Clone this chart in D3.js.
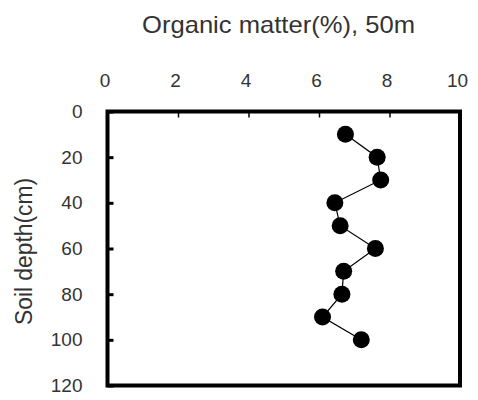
<!DOCTYPE html>
<html>
<head>
<meta charset="utf-8">
<script src="https://cdn.jsdelivr.net/npm/d3@7"></script>
<style>
  html, body { margin: 0; padding: 0; background: #fff; }
  svg { display: block; }
  text { font-family: "Liberation Sans", Arial, sans-serif; fill: #333; }
</style>
</head>
<body>
<svg id="chart" width="478" height="400"></svg>
<script>
// Data
const depths = [10, 20, 30, 40, 50, 60, 70, 80, 90, 100];
const organicMatter = [6.75, 7.65, 7.75, 6.45, 6.6, 7.6, 6.7, 6.65, 6.1, 7.2];
const xTicks = [0, 2, 4, 6, 8, 10];
const yTicks = [0, 20, 40, 60, 80, 100, 120];
const titleText = "Organic matter(%),  50m";
const yLabel = "Soil depth(cm)";

const svg = d3.select("#chart");
const margin = { left: 107.5, top: 111.5 };

const x = d3.scaleLinear().domain([0, 10]).range([margin.left, 460]);
const y = d3.scaleLinear().domain([0, 120]).range([margin.top, 385.5]);

// Title
svg.append("text")
  .attr("x", 142).attr("y", 33)
  .attr("font-size", 24)
  .attr("textLength", 273)
  .attr("lengthAdjust", "spacingAndGlyphs")
  .text(titleText);

// Top axis (ticks inward)
const xAxis = d3.axisTop(x).tickValues(xTicks).tickSize(-6).tickPadding(25).tickFormat(d3.format("d"));
const gx = svg.append("g").attr("transform", `translate(0,${y(0)})`).call(xAxis);
gx.select(".domain").remove();
gx.selectAll(".tick line").attr("stroke", "#000").attr("stroke-width", 1.5);
gx.selectAll(".tick text").attr("font-size", 19).attr("fill", "#333")
  .attr("font-family", "Liberation Sans, Arial, sans-serif").attr("dx", -3);

// Left axis (ticks inward)
const yAxis = d3.axisLeft(y).tickValues(yTicks).tickSize(-6).tickPadding(25);
const gy = svg.append("g").attr("transform", `translate(${x(0)},0)`).call(yAxis);
gy.select(".domain").remove();
gy.selectAll(".tick line").attr("stroke", "#000").attr("stroke-width", 3);
gy.selectAll(".tick text").attr("font-size", 19).attr("fill", "#333")
  .attr("font-family", "Liberation Sans, Arial, sans-serif");

// Frame
svg.append("rect")
  .attr("x", x(0)).attr("y", y(0))
  .attr("width", x(10) - x(0)).attr("height", y(120) - y(0))
  .attr("fill", "none").attr("stroke", "#000").attr("stroke-width", 4);

// Y label
svg.append("text")
  .attr("transform", `translate(32,251.5) rotate(-90)`)
  .attr("text-anchor", "middle")
  .attr("font-size", 23)
  .attr("textLength", 147)
  .attr("lengthAdjust", "spacingAndGlyphs")
  .text(yLabel);

// Line and points
const pts = depths.map((d, i) => ({ depth: d, om: organicMatter[i] }));
svg.append("path")
  .datum(pts)
  .attr("fill", "none").attr("stroke", "#000").attr("stroke-width", 1.2)
  .attr("d", d3.line().x(d => x(d.om)).y(d => y(d.depth)));

svg.selectAll("circle.pt").data(pts).enter().append("circle")
  .attr("class", "pt")
  .attr("cx", d => x(d.om)).attr("cy", d => y(d.depth))
  .attr("r", 8.5).attr("fill", "#000");
</script>
</body>
</html>
